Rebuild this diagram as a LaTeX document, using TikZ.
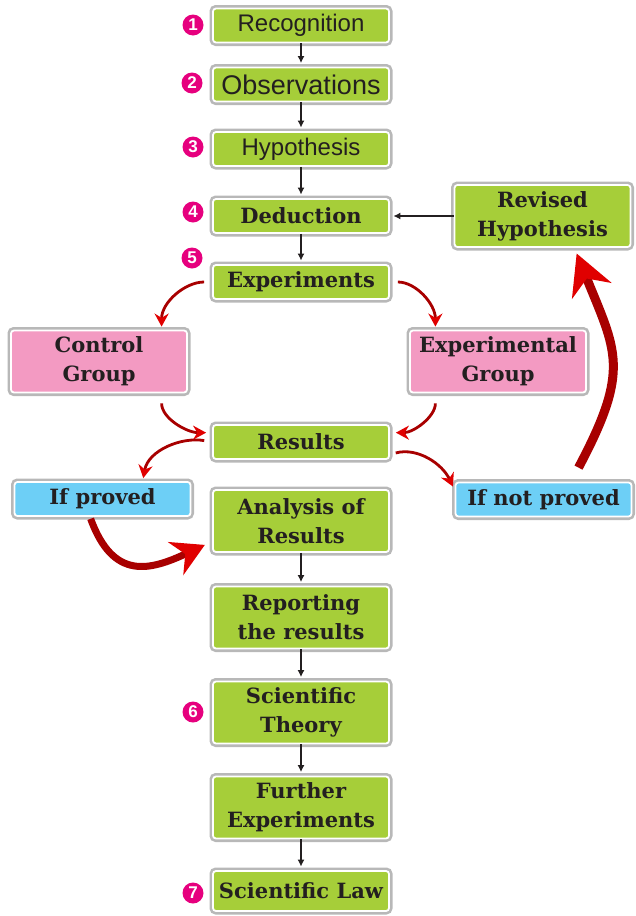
\documentclass[tikz,border=0pt]{standalone}
\usepackage{fontspec}
\setmainfont{Liberation Sans}
\newfontfamily\slabfont{DejaVu Serif}
\usetikzlibrary{calc, arrows.meta}

\definecolor{boxgreen}{HTML}{A6CE39}
\definecolor{boxpink}{HTML}{F39AC2}
\definecolor{boxblue}{HTML}{6DCFF6}
\definecolor{numpink}{HTML}{E6007E}
\definecolor{arrdark}{HTML}{A80000}
\definecolor{arrred}{HTML}{E00000}
\definecolor{ink}{HTML}{231F20}

\tikzset{
  box/.style={preaction={draw=black!28, line width=7pt}, draw=white, line width=1.8pt,
    rounded corners=3pt, minimum width=176pt, minimum height=34pt, align=center,
    text=ink, inner sep=2pt},
  slab/.style={font=\slabfont\bfseries\fontsize{21}{29}\selectfont},
  gbox/.style={box, slab, fill=boxgreen},
  abox/.style={box, fill=boxgreen, font=\fontsize{24}{28}\selectfont},
  pbox/.style={box, slab, fill=boxpink},
  bbox/.style={box, slab, fill=boxblue},
  twoline/.style={minimum height=62pt},
  num/.style={circle, fill=numpink, text=white, font=\bfseries\fontsize{17}{17}\selectfont,
    inner sep=0pt, minimum size=21pt},
  link/.style={draw=ink, line width=1.3pt, -{Latex[length=7pt,width=7pt]}, shorten >=3.5pt},
  curl/.style={draw=arrdark, line width=2.8pt, -{Stealth[length=13pt,width=14pt,color=arrred]}},
  bigcurl/.style={draw=arrdark, line width=9pt, -{Stealth[length=32pt,width=36pt,color=arrred]}},
}

\begin{document}
\begin{tikzpicture}[x=1pt, y=1pt]

    \useasboundingbox (0,0) rectangle (636,-916);

    % main column
    \node[abox] (rec) at (301,-25.5) {Recognition};
    \node[abox, font=\fontsize{27}{30}\selectfont] (obs) at (301,-84.5) {Observations};
    \node[abox] (hyp) at (301,-149) {Hypothesis};
    \node[gbox] (ded) at (301,-216) {Deduction};
    \node[gbox] (exps) at (301,-282) {Experiments};
    \node[gbox] (res) at (301,-442) {Results};
    \node[gbox, twoline] (ana) at (301,-521) {Analysis of\\Results};
    \node[gbox, twoline] (rep) at (301,-617.5) {Reporting\\the results};
    \node[gbox, twoline] (the) at (301,-712.5) {Scientific\\Theory};
    \node[gbox, twoline] (fur) at (301,-807.5) {Further\\Experiments};
    \node[gbox, minimum height=40pt] (law) at (301,-891) {Scientific Law};

    % side boxes
    \node[gbox, twoline] (rev) at (542.5,-216) {Revised\\Hypothesis};
    \node[pbox, twoline] (ctrl) at (99,-361.5) {Control\\Group};
    \node[pbox, twoline] (expg) at (498,-361.5) {Experimental\\Group};
    \node[bbox] (prov) at (102.5,-499) {If proved};
    \node[bbox] (nprov) at (543.5,-499.5) {If not proved};

    % step numbers
    \node[num] (n1) at (193,-25) {1};
    \node[num] (n2) at (192,-83) {2};
    \node[num] (n3) at (193,-147) {3};
    \node[num] (n4) at (193,-212) {4};
    \node[num] (n5) at (192,-258) {5};
    \node[num] (n6) at (193,-712) {6};
    \node[num] (n7) at (193,-893) {7};

    \draw[link] (rec.south) -- (obs.north);
    \draw[link] (obs.south) -- (hyp.north);
    \draw[link] (hyp.south) -- (ded.north);
    \draw[link] (ded.south) -- (exps.north);
    \draw[link] (rev.west) -- (ded.east);
    \draw[link] (ana.south) -- (rep.north);
    \draw[link] (rep.south) -- (the.north);
    \draw[link] (the.south) -- (fur.north);
    \draw[link] (fur.south) -- (law.north);

    \draw[curl, shorten <=8pt, shorten >=3pt] (exps.west) to[out=180,in=90] (ctrl.27);
    \draw[curl, shorten <=8pt, shorten >=3pt] (exps.east) to[out=0,in=90] (expg.153);
    \draw[curl, shorten <=10pt, shorten >=6pt] (ctrl.-27) to[out=-90,in=180] (res.174);
    \draw[curl, shorten <=10pt, shorten >=6pt] (expg.-153) to[out=-90,in=0] (res.6);
    \draw[curl, shorten <=8pt, shorten >=3pt] (res.west) to[out=170,in=80] (prov.24);
    \draw[curl, shorten <=6pt, shorten >=4pt] (res.-8) to[out=15,in=115] (nprov.174);

    \draw[bigcurl, line width=7pt, shorten <=2pt, shorten >=8pt]
        (prov.235) to[out=-70,in=205,looseness=1.4] (ana.193);
    \draw[bigcurl, -{Stealth[length=40pt,width=42pt,color=arrred]}, shorten >=6pt]
        ($(nprov.north)+(35,14)$) to[out=62,in=-68,looseness=1.3] (rev.-45);

\end{tikzpicture}
\end{document}
